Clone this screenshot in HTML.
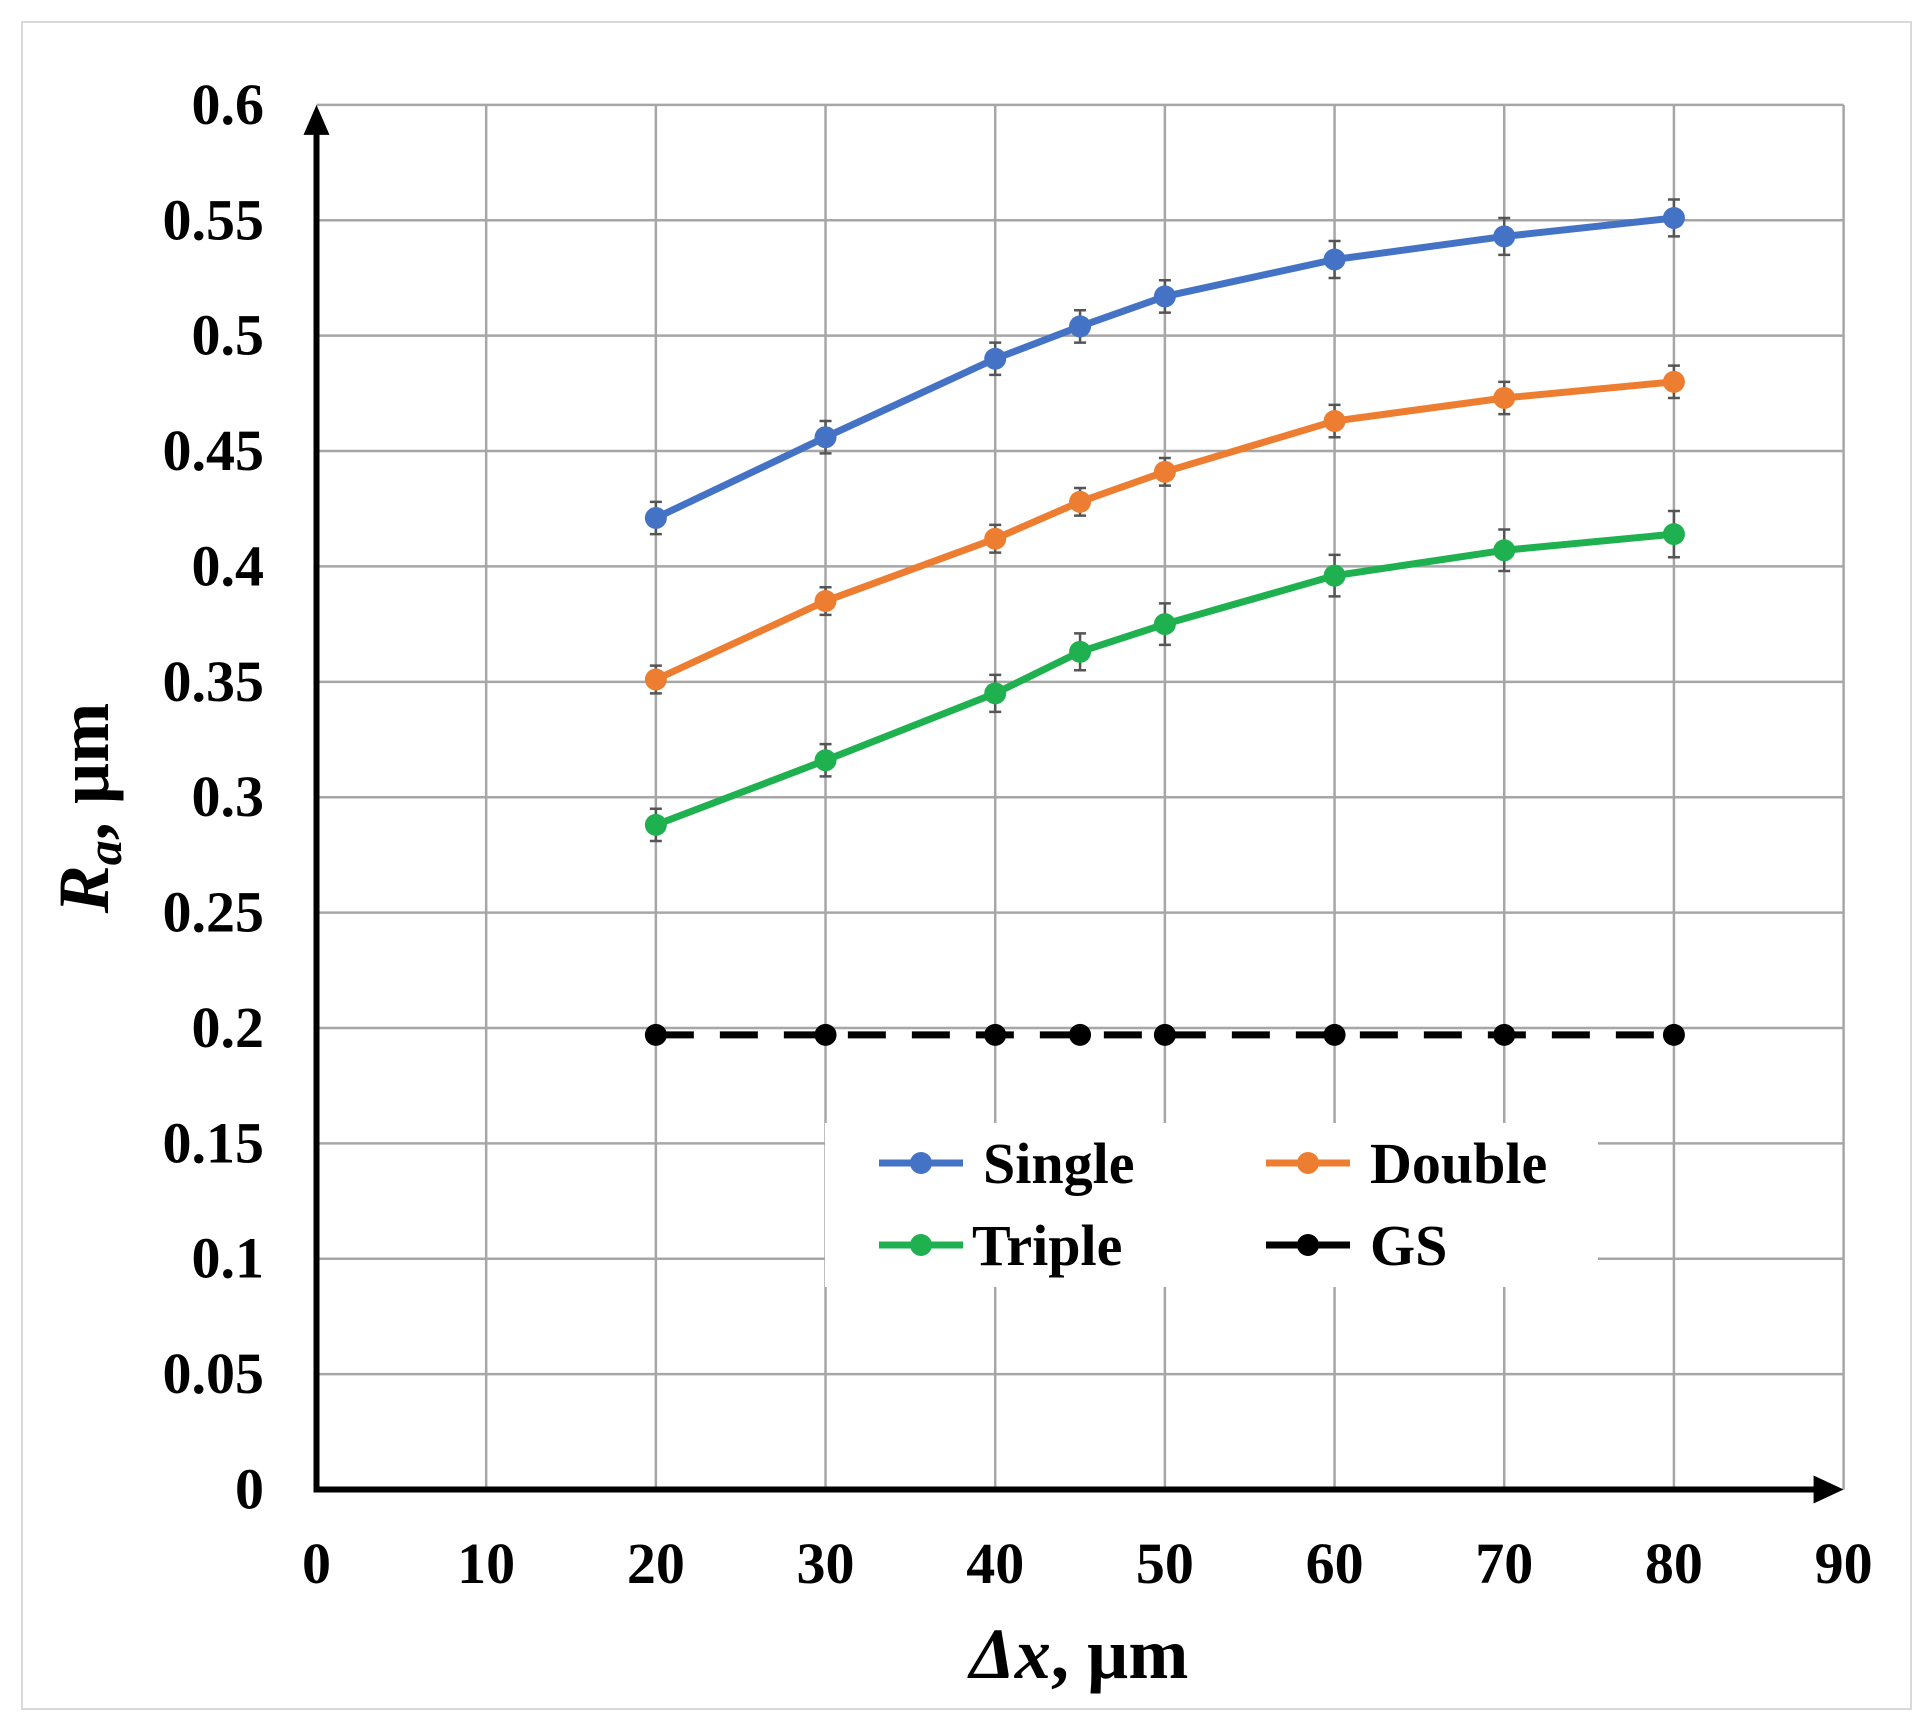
<!DOCTYPE html>
<html><head><meta charset="utf-8"><style>
html,body{margin:0;padding:0;background:#fff;}
svg{display:block;font-family:"Liberation Serif",serif;font-weight:bold;}
</style></head><body>
<svg id="chart" width="1931" height="1728" viewBox="0 0 1931 1728" xmlns="http://www.w3.org/2000/svg">
<rect x="22" y="22" width="1889" height="1687" fill="#fff" stroke="#d9d9d9" stroke-width="2"/>
<g id="grid"></g>
<g id="series"></g>
<g id="axes"></g>
<g id="legend"></g>
</svg>
<script>
const xTicks = [0,10,20,30,40,50,60,70,80,90];
const yTicks = [0,0.05,0.1,0.15,0.2,0.25,0.3,0.35,0.4,0.45,0.5,0.55,0.6];
const yTickLabels = ["0","0.05","0.1","0.15","0.2","0.25","0.3","0.35","0.4","0.45","0.5","0.55","0.6"];
const xCats = [20,30,40,45,50,60,70,80];
const singleVals = [0.421,0.456,0.490,0.504,0.517,0.533,0.543,0.551];
const doubleVals = [0.351,0.385,0.412,0.428,0.441,0.463,0.473,0.480];
const tripleVals = [0.288,0.316,0.345,0.363,0.375,0.396,0.407,0.414];
const gsVals = [0.197,0.197,0.197,0.197,0.197,0.197,0.197,0.197];
const singleErr = [0.007,0.007,0.007,0.007,0.007,0.008,0.008,0.008];
const doubleErr = [0.006,0.006,0.006,0.006,0.006,0.007,0.007,0.007];
const tripleErr = [0.007,0.007,0.008,0.008,0.009,0.009,0.009,0.010];

const NS="http://www.w3.org/2000/svg";
const X0=316.5, X1=1843.6, Y0=1489.5, Y1=104.9;
function sx(v){return X0+(v-0)/(90-0)*(X1-X0);}
function sy(v){return Y0-(v-0)/(0.6-0)*(Y0-Y1);}
function mk(tag,attrs,parent){const e=document.createElementNS(NS,tag);for(const k in attrs)e.setAttribute(k,attrs[k]);parent.appendChild(e);return e;}
const grid=document.getElementById('grid'), ser=document.getElementById('series'), axes=document.getElementById('axes'), leg=document.getElementById('legend');

xTicks.forEach((t,i)=>{
  if(t>0){const l=mk('line',{x1:sx(t),x2:sx(t),y1:sy(0.6),y2:sy(0),stroke:'#a6a6a6','stroke-width':2.5},grid);
  
  }
  const tx=mk('text',{x:sx(t),y:1583,'text-anchor':'middle','font-size':58},axes);
  tx.textContent=String(t);
  
  
});
yTicks.forEach((t,i)=>{
  if(t>0){const l=mk('line',{x1:sx(0),x2:sx(90),y1:sy(t),y2:sy(t),stroke:'#a6a6a6','stroke-width':2.5},grid);
  
  }
  const tx=mk('text',{x:264,y:sy(t)+19,'text-anchor':'end','font-size':58},axes);
  tx.textContent=yTickLabels[i];
  
  
});

function drawSeries(name,vals,errs,color,dashed){
  const g=mk('g',{},ser);
  
  
  if(errs){vals.forEach((v,i)=>{
    const x=sx(xCats[i]);
    const e=mk('path',{d:`M${x},${sy(v+errs[i])}V${sy(v-errs[i])}M${x-6},${sy(v+errs[i])}H${x+6}M${x-6},${sy(v-errs[i])}H${x+6}`,stroke:'#555',fill:'none','stroke-width':2.5},g);
    
    
  });}
  const pts=vals.map((v,i)=>sx(xCats[i])+','+sy(v)).join(' ');
  const pl=mk('polyline',{points:pts,fill:'none',stroke:color,'stroke-width':7,'stroke-linejoin':'round'},g);
  if(dashed)pl.setAttribute('stroke-dasharray','38 26');
  
  
  vals.forEach((v,i)=>{
    const c=mk('circle',{cx:sx(xCats[i]),cy:sy(v),r:11,fill:color},g);
    
    
  });
}
drawSeries('single',singleVals,singleErr,'#4472c4',false);
drawSeries('double',doubleVals,doubleErr,'#ed7d31',false);
drawSeries('triple',tripleVals,tripleErr,'#1fb050',false);
drawSeries('gs',gsVals,null,'#000',true);

let a=mk('line',{x1:X0,x2:X0,y1:Y0+3,y2:Y1+20,stroke:'#000','stroke-width':6},axes);

a=mk('polygon',{points:`${X0-13},${Y1+30} ${X0+13},${Y1+30} ${X0},${Y1}`,fill:'#000'},axes);

a=mk('line',{x1:X0-3,x2:X1-20,y1:Y0,y2:Y0,stroke:'#000','stroke-width':6},axes);

a=mk('polygon',{points:`${X1-30},${Y0-14} ${X1-30},${Y0+14} ${X1},${Y0}`,fill:'#000'},axes);


let t=mk('text',{x:1079,y:1678,'text-anchor':'middle','font-size':72},axes);
t.innerHTML='<tspan font-style="italic">Δx</tspan>, µm';

t=mk('text',{x:0,y:0,'text-anchor':'middle','font-size':72,transform:'translate(108,808) rotate(-90)'},axes);
t.innerHTML='<tspan font-style="italic">R<tspan font-size="50" dy="13">a</tspan></tspan><tspan dy="-13">, µm</tspan>';


let r=mk('rect',{x:825,y:1123,width:773,height:164,fill:'#fff'},leg);

const legItems=[['Single','#4472c4',879,1163,false],['Double','#ed7d31',1266,1163,false],['Triple','#1fb050',879,1245,false],['GS','#000',1266,1245,true]];
legItems.forEach(it=>{
  const g=mk('g',{},leg);
  
  
  const x=it[2],y=it[3];
  mk('line',{x1:x,x2:x+84,y1:y,y2:y,stroke:it[1],'stroke-width':7},g);
  mk('circle',{cx:x+42,cy:y,r:11,fill:it[1]},g);
  const tx=mk('text',{x:it[0]==='Triple'?x+93:x+104,y:y+20,'font-size':58},g);
  tx.textContent=it[0];
});
</script>
</body></html>
